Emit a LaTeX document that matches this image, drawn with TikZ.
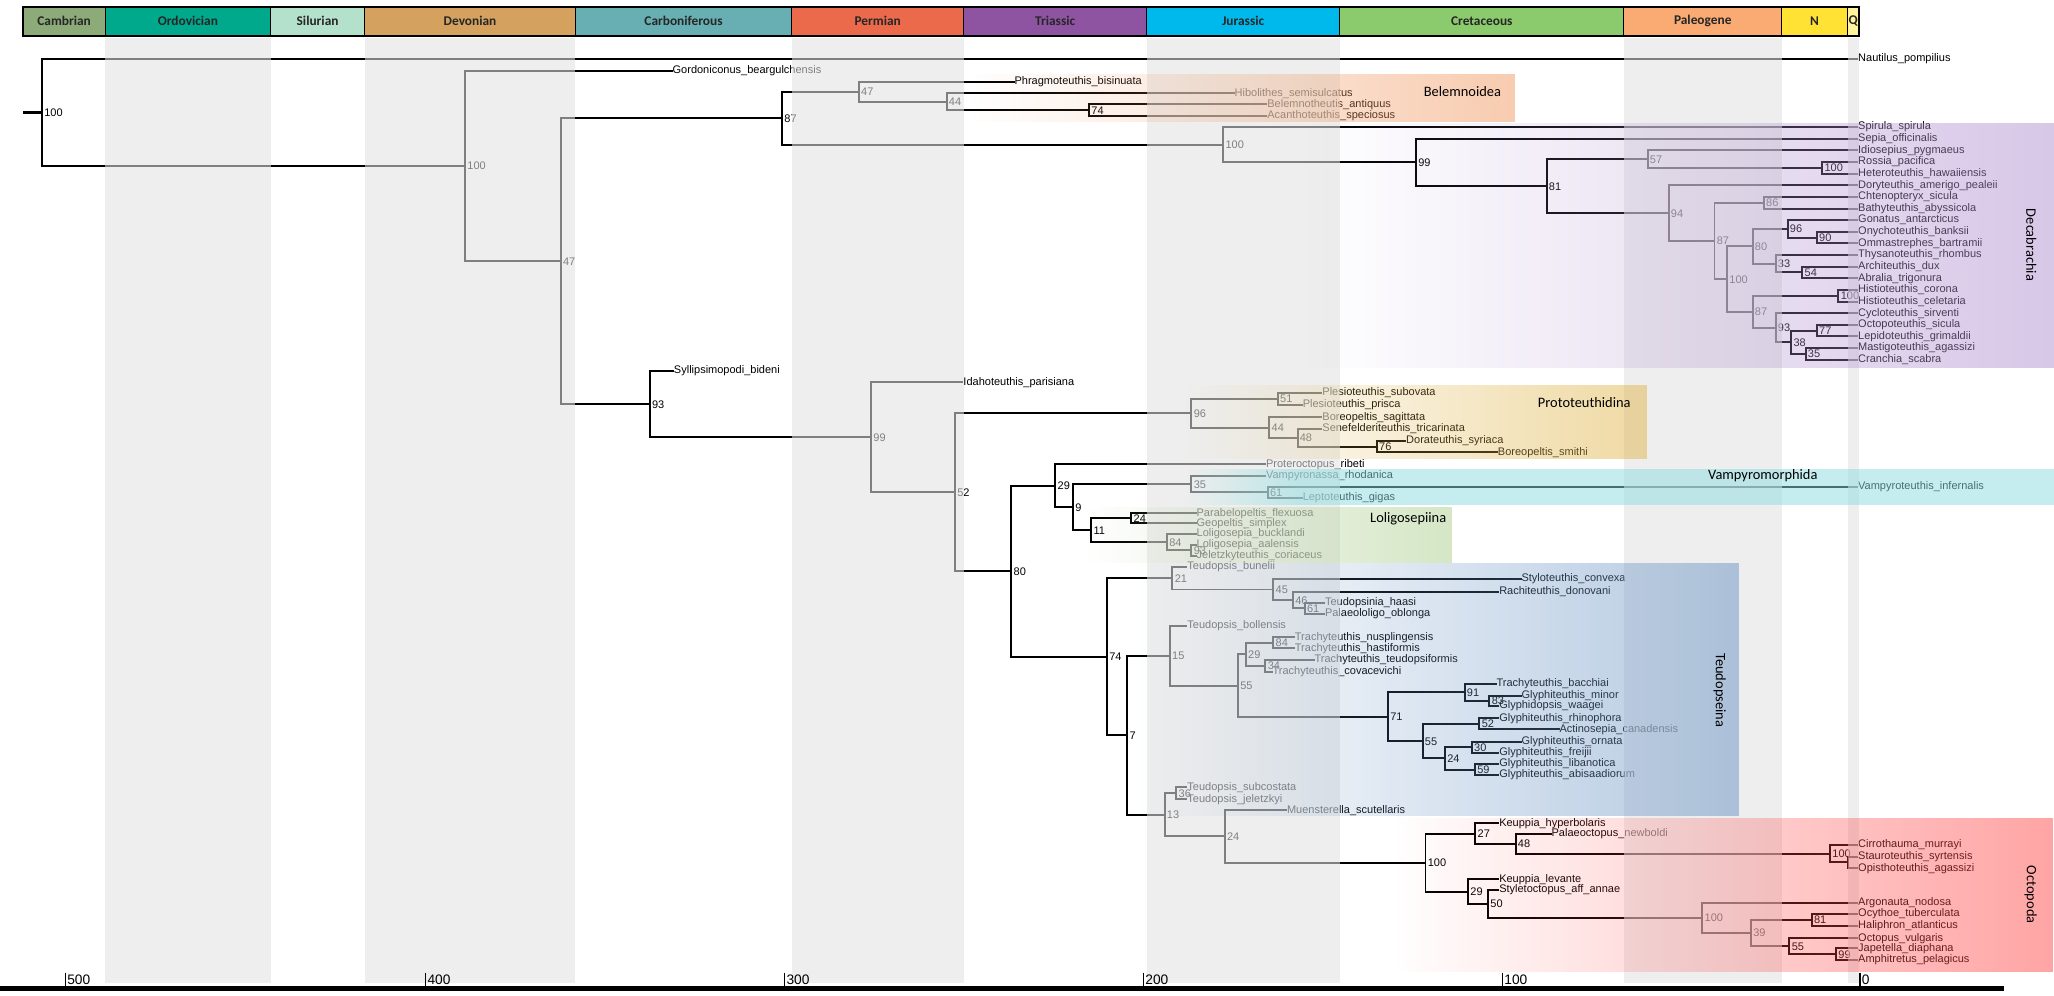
\documentclass[tikz,border=0pt]{standalone}
\usepackage{fontspec}
\setmainfont{Liberation Sans}
\newfontfamily\clfont{Carlito}
\usetikzlibrary{fadings}
\tikzfading[name=fadeinright, left color=transparent!100, right color=transparent!0]
\definecolor{cCam}{HTML}{8DAA79}
\definecolor{cOrd}{HTML}{00A88C}
\definecolor{cSil}{HTML}{B3E1CB}
\definecolor{cDev}{HTML}{D4A15F}
\definecolor{cCar}{HTML}{67AFB2}
\definecolor{cPer}{HTML}{EB6A4C}
\definecolor{cTri}{HTML}{8E53A1}
\definecolor{cJur}{HTML}{00B9EC}
\definecolor{cCre}{HTML}{8BCB6D}
\definecolor{cPal}{HTML}{F9AB73}
\definecolor{cNeo}{HTML}{FFE234}
\definecolor{cQua}{HTML}{FFF49C}
\definecolor{bandc}{gray}{0.888}
\definecolor{kBel}{rgb}{0.945,0.60,0.38}
\definecolor{kDec}{rgb}{0.694,0.569,0.82}
\definecolor{kPro}{rgb}{0.882,0.71,0.286}
\definecolor{kVam}{rgb}{0.553,0.867,0.882}
\definecolor{kLol}{rgb}{0.67,0.81,0.55}
\definecolor{kTeu}{rgb}{0.41,0.58,0.77}
\definecolor{kOct}{rgb}{1,0.29,0.29}
\newcommand\Tip[4]{\node[tiplab] (#1) at (#2,#3) {#4};}
\newcommand\Inn[4]{\coordinate (#1) at (#2,#3);\node[suplab] (#1L) at (#2,#3) {#4};}
\newcommand\Ed[2]{\draw[br] (#1) |- (#2);}
\tikzset{
  tiplab/.style={anchor=west, inner sep=0pt, outer sep=0pt, xshift=0.5pt, font=\fontsize{8.4}{9}\selectfont, text height=6.1pt, text depth=1.8pt},
  suplab/.style={anchor=west, inner sep=0pt, outer sep=0pt, xshift=1.8pt, font=\fontsize{8.4}{9}\selectfont, text height=6.1pt, text depth=0pt},
  br/.style={line width=1.5pt},
  thickbr/.style={line width=1.8pt},
  per/.style={draw=black, line width=0.8pt, minimum height=22.1pt, inner sep=0pt, outer sep=0pt, text=black!85, font=\fontsize{10.2}{11}\selectfont\clfont\bfseries},
  band/.style={fill=bandc, fill opacity=0.563},
  clade/.style={fill opacity=0.5, path fading=fadeinright},
  cladelab/.style={inner sep=0pt, font=\fontsize{11}{12}\selectfont\clfont},
  axlab/.style={anchor=west, inner sep=0pt, font=\fontsize{10.5}{11}\selectfont}
}
\begin{document}
\begin{tikzpicture}[x=1pt,y=-1pt]
\useasboundingbox (0,0) rectangle (1568,760);
\fill[white] (0,0) rectangle (1568,760);

% ---------------- tree: upper part ----------------
\coordinate (r0) at (17.5,85.8);
\Inn{root}{32}{85.8}{100}
\Tip{tNau}{1418}{45}{Nautilus\_pompilius}
\Inn{n2}{355}{126.65}{100}
\Tip{tGor}{513}{54}{Gordoniconus\_beargulchensis}
\Inn{n3}{428}{199.35}{47}
\Inn{n4}{597}{90.2}{87}
\Inn{nB}{655.6}{69.95}{47}
\Inn{nB2}{722.6}{77.6}{44}
\Inn{nB3}{831.4}{84.05}{74}
\Tip{tPhr}{774}{62.3}{Phragmoteuthis\_bisinuata}
\Tip{tHib}{942}{71.2}{Hibolithes\_semisulcatus}
\Tip{tBel}{967}{79.6}{Belemnotheutis\_antiquus}
\Tip{tAca}{967}{88.5}{Acanthoteuthis\_speciosus}
\Inn{nD}{933.8}{110.5}{100}
\Inn{n99}{1080.9}{124.0}{99}
\Inn{n81}{1180.6}{142.0}{81}
\Inn{n57}{1257.7}{121.4}{57}
\Inn{n100R}{1391}{128.05}{100}
\Inn{n94}{1273.8}{162.65}{94}
\Inn{n87a}{1308.8}{183.9}{87}
\Inn{n86}{1346.5}{154.75}{86}
\Inn{n100b}{1318.4}{213.0}{100}
\Inn{n80d}{1337.9}{188.0}{80}
\Inn{n96d}{1364.6}{174.7}{96}
\Inn{n90}{1386.9}{181.35}{90}
\Inn{n33}{1355.4}{201.35}{33}
\Inn{n54}{1375.9}{208.0}{54}
\Inn{n87b}{1337.9}{238.0}{87}
\Inn{n100H}{1403.4}{225.75}{100}
\Inn{n93d}{1355.4}{250.2}{93}
\Inn{n38}{1367.4}{261.3}{38}
\Inn{n77}{1386.9}{252.4}{77}
\Inn{n35d}{1378.3}{270.15}{35}
\Tip{tSpi}{1418}{97.0}{Spirula\_spirula}
\Tip{tSep}{1418}{105.9}{Sepia\_officinalis}
\Tip{tIdi}{1418}{114.8}{Idiosepius\_pygmaeus}
\Tip{tRos}{1418}{123.6}{Rossia\_pacifica}
\Tip{tHet}{1418}{132.5}{Heteroteuthis\_hawaiiensis}
\Tip{tDor}{1418}{141.4}{Doryteuthis\_amerigo\_pealeii}
\Tip{tCht}{1418}{150.3}{Chtenopteryx\_sicula}
\Tip{tBat}{1418}{159.2}{Bathyteuthis\_abyssicola}
\Tip{tGon}{1418}{168.0}{Gonatus\_antarcticus}
\Tip{tOny}{1418}{176.9}{Onychoteuthis\_banksii}
\Tip{tOmm}{1418}{185.8}{Ommastrephes\_bartramii}
\Tip{tThy}{1418}{194.7}{Thysanoteuthis\_rhombus}
\Tip{tArc}{1418}{203.6}{Architeuthis\_dux}
\Tip{tAbr}{1418}{212.4}{Abralia\_trigonura}
\Tip{tHco}{1418}{221.3}{Histioteuthis\_corona}
\Tip{tHce}{1418}{230.2}{Histioteuthis\_celetaria}
\Tip{tCyc}{1418}{239.1}{Cycloteuthis\_sirventi}
\Tip{tOct}{1418}{248.0}{Octopoteuthis\_sicula}
\Tip{tLep}{1418}{256.8}{Lepidoteuthis\_grimaldii}
\Tip{tMas}{1418}{265.7}{Mastigoteuthis\_agassizi}
\Tip{tCra}{1418}{274.6}{Cranchia\_scabra}

\draw[thickbr] (r0) -- (root);
\draw[thickbr] (root) |- (tNau.west);
\draw[thickbr] (root) |- (n2);
\Ed{n2}{tGor.west} \Ed{n2}{n3}
\Ed{n3}{n4}
\Ed{n4}{nB} \Ed{n4}{nD}
\Ed{nB}{tPhr.west} \Ed{nB}{nB2}
\Ed{nB2}{tHib.west} \Ed{nB2}{nB3}
\Ed{nB3}{tBel.west} \Ed{nB3}{tAca.west}
\Ed{nD}{tSpi.west} \Ed{nD}{n99}
\Ed{n99}{tSep.west} \Ed{n99}{n81}
\Ed{n81}{n57} \Ed{n81}{n94}
\Ed{n57}{tIdi.west} \Ed{n57}{n100R}
\Ed{n100R}{tRos.west} \Ed{n100R}{tHet.west}
\Ed{n94}{tDor.west} \Ed{n94}{n87a}
\Ed{n87a}{n86} \Ed{n87a}{n100b}
\Ed{n86}{tCht.west} \Ed{n86}{tBat.west}
\Ed{n100b}{n80d} \Ed{n100b}{n87b}
\Ed{n80d}{n96d} \Ed{n80d}{n33}
\Ed{n96d}{tGon.west} \Ed{n96d}{n90}
\Ed{n90}{tOny.west} \Ed{n90}{tOmm.west}
\Ed{n33}{tThy.west} \Ed{n33}{n54}
\Ed{n54}{tArc.west} \Ed{n54}{tAbr.west}
\Ed{n87b}{n100H} \Ed{n87b}{n93d}
\Ed{n100H}{tHco.west} \Ed{n100H}{tHce.west}
\Ed{n93d}{tCyc.west} \Ed{n93d}{n38}
\Ed{n38}{n77} \Ed{n38}{n35d}
\Ed{n77}{tOct.west} \Ed{n77}{tLep.west}
\Ed{n35d}{tMas.west} \Ed{n35d}{tCra.west}

% ---------------- tree: lower part ----------------
\Inn{n5}{496}{308.5}{93}
\Tip{tSyl}{514}{283.2}{Syllipsimopodi\_bideni}
\Inn{n99b}{665}{333.8}{99}
\Tip{tIda}{735}{291.9}{Idahoteuthis\_parisiana}
\Inn{n52}{729}{375.75}{52}
\Inn{n96}{909.5}{315.45}{96}
\Inn{n51}{975.5}{304.5}{51}
\Inn{n44}{969}{326.4}{44}
\Inn{n48}{990.5}{334.3}{48}
\Inn{n76}{1051}{340.95}{76}
\Tip{tPsu}{1009}{300}{Plesioteuthis\_subovata}
\Tip{tPpr}{994}{309}{Plesioteuthis\_prisca}
\Tip{tBsa}{1009}{318.5}{Boreopeltis\_sagittata}
\Tip{tSen}{1009}{327.6}{Senefelderiteuthis\_tricarinata}
\Tip{tDsy}{1073}{336.5}{Dorateuthis\_syriaca}
\Tip{tBsm}{1143}{345.4}{Boreopeltis\_smithi}
\Inn{n80}{772}{436.05}{80}
\Inn{n29}{805.6}{370.8}{29}
\Inn{n9}{819.2}{387.1}{9}
\Inn{n35}{909.5}{369.5}{35}
\Inn{n61}{967.7}{375.75}{61}
\Inn{n11}{833}{404.75}{11}
\Inn{n24L}{863.6}{395.7}{24}
\Inn{n84L}{890.8}{413.8}{84}
\Inn{n93s}{909.5}{420.1}{93}
\Tip{tPro}{966}{354.5}{Proteroctopus\_ribeti}
\Tip{tVrh}{966}{363.3}{Vampyronassa\_rhodanica}
\Tip{tVin}{1418}{371.5}{Vampyroteuthis\_infernalis}
\Tip{tLgi}{994}{380}{Leptoteuthis\_gigas}
\Tip{tPar}{913}{391.9}{Parabelopeltis\_flexuosa}
\Tip{tGeo}{913}{399.5}{Geopeltis\_simplex}
\Tip{tLbu}{913}{407.5}{Loligosepia\_bucklandi}
\Tip{tLaa}{913}{416}{Loligosepia\_aalensis}
\Tip{tJel}{913}{424.2}{Jeletzkyteuthis\_coriaceus}
\Inn{n74}{845}{501.3}{74}
\Inn{n21}{895}{441.3}{21}
\Inn{n45}{972}{450.0}{45}
\Inn{n46}{987}{458.05}{46}
\Inn{n61T}{996}{464.4}{61}
\Tip{tTbu}{906}{432.6}{Teudopsis\_bunelii}
\Tip{tSty}{1161}{442}{Styloteuthis\_convexa}
\Tip{tRac}{1144}{451.7}{Rachiteuthis\_donovani}
\Tip{tTha}{1011}{460.1}{Teudopsinia\_haasi}
\Tip{tPob}{1011}{468.7}{Palaeololigo\_oblonga}
\Inn{n7}{860.5}{561.3}{7}
\Inn{n15}{893}{500.5}{15}
\Inn{n55T}{945}{523.35}{55}
\Inn{n29T}{951}{499.5}{29}
\Inn{n84T}{972}{490.7}{84}
\Inn{n34}{966}{508.35}{34}
\Inn{n71}{1059.5}{547.2}{71}
\Inn{n91}{1118}{528.55}{91}
\Inn{n83}{1137}{534.9}{83}
\Inn{n55b}{1086}{565.8}{55}
\Inn{n52T}{1129.4}{552.6}{52}
\Inn{n24T}{1103}{578.95}{24}
\Inn{n30}{1123.6}{570.4}{30}
\Inn{n59}{1126}{587.5}{59}
\Tip{tTbo}{906}{477.6}{Teudopsis\_bollensis}
\Tip{tTnu}{988}{486.5}{Trachyteuthis\_nusplingensis}
\Tip{tThs}{988}{494.9}{Trachyteuthis\_hastiformis}
\Tip{tTte}{1003}{503.9}{Trachyteuthis\_teudopsiformis}
\Tip{tTco}{971}{512.8}{Trachyteuthis\_covacevichi}
\Tip{tTba}{1142}{522.2}{Trachyteuthis\_bacchiai}
\Tip{tGmi}{1161}{531.1}{Glyphiteuthis\_minor}
\Tip{tGwa}{1144}{538.7}{Glyphidopsis\_waagei}
\Tip{tGrh}{1144}{548.4}{Glyphiteuthis\_rhinophora}
\Tip{tAct}{1190}{556.8}{Actinosepia\_canadensis}
\Tip{tGorn}{1161}{566.2}{Glyphiteuthis\_ornata}
\Tip{tGfr}{1144}{574.6}{Glyphiteuthis\_freijii}
\Tip{tGli}{1144}{583.3}{Glyphiteuthis\_libanotica}
\Tip{tGab}{1144}{591.7}{Glyphiteuthis\_abisaadiorum}
\Inn{n13}{889}{622.05}{13}
\Inn{n36}{898}{605.6}{36}
\Inn{n24O}{934.9}{638.5}{24}
\Inn{n100O}{1088.2}{658.45}{100}
\Inn{n27}{1126.2}{636.3}{27}
\Inn{n48O}{1157}{644.15}{48}
\Inn{n100C}{1397}{651.7}{100}
\coordinate (n9x) at (1411,658.35);
\Inn{n29O}{1120.7}{680.6}{29}
\Inn{n50}{1136}{690.0}{50}
\Inn{n100I}{1299.5}{700.6}{100}
\Inn{n39}{1336.6}{712.2}{39}
\Inn{n81O}{1383}{702.15}{81}
\Inn{n55O}{1366}{722.3}{55}
\Inn{n99O}{1401.6}{728.35}{99}
\Tip{tTsu}{906}{601}{Teudopsis\_subcostata}
\Tip{tTje}{906}{610.2}{Teudopsis\_jeletzkyi}
\Tip{tMue}{982}{618.5}{Muensterella\_scutellaris}
\Tip{tKhy}{1144}{628.5}{Keuppia\_hyperbolaris}
\Tip{tPal}{1184}{636.6}{Palaeoctopus\_newboldi}
\Tip{tCir}{1418}{645}{Cirrothauma\_murrayi}
\Tip{tSta}{1418}{653.9}{Stauroteuthis\_syrtensis}
\Tip{tOpi}{1418}{662.8}{Opisthoteuthis\_agassizi}
\Tip{tKle}{1144}{671.2}{Keuppia\_levante}
\Tip{tSst}{1144}{679.4}{Styletoctopus\_aff\_annae}
\Tip{tArg}{1418}{689}{Argonauta\_nodosa}
\Tip{tOcy}{1418}{697.7}{Ocythoe\_tuberculata}
\Tip{tHal}{1418}{706.6}{Haliphron\_atlanticus}
\Tip{tOvu}{1418}{716.3}{Octopus\_vulgaris}
\Tip{tJap}{1418}{723.9}{Japetella\_diaphana}
\Tip{tAmp}{1418}{732.8}{Amphitretus\_pelagicus}

\Ed{n3}{n5}
\Ed{n5}{tSyl.west} \Ed{n5}{n99b}
\Ed{n99b}{tIda.west} \Ed{n99b}{n52}
\Ed{n52}{n96} \Ed{n52}{n80}
\Ed{n96}{n51} \Ed{n96}{n44}
\Ed{n51}{tPsu.west} \Ed{n51}{tPpr.west}
\Ed{n44}{tBsa.west} \Ed{n44}{n48}
\Ed{n48}{tSen.west} \Ed{n48}{n76}
\Ed{n76}{tDsy.west} \Ed{n76}{tBsm.west}
\Ed{n80}{n29} \Ed{n80}{n74}
\Ed{n29}{tPro.west} \Ed{n29}{n9}
\Ed{n9}{n35} \Ed{n9}{n11}
\Ed{n35}{tVrh.west} \Ed{n35}{n61}
\Ed{n61}{tVin.west} \Ed{n61}{tLgi.west}
\Ed{n11}{n24L} \Ed{n11}{n84L}
\Ed{n24L}{tPar.west} \Ed{n24L}{tGeo.west}
\Ed{n84L}{tLbu.west} \Ed{n84L}{n93s}
\Ed{n93s}{tLaa.west} \Ed{n93s}{tJel.west}
\Ed{n74}{n21} \Ed{n74}{n7}
\Ed{n21}{tTbu.west} \Ed{n21}{n45}
\Ed{n45}{tSty.west} \Ed{n45}{n46}
\Ed{n46}{tRac.west} \Ed{n46}{n61T}
\Ed{n61T}{tTha.west} \Ed{n61T}{tPob.west}
\Ed{n7}{n15} \Ed{n7}{n13}
\Ed{n15}{tTbo.west} \Ed{n15}{n55T}
\Ed{n55T}{n29T} \Ed{n55T}{n71}
\Ed{n29T}{n84T} \Ed{n29T}{n34}
\Ed{n84T}{tTnu.west} \Ed{n84T}{tThs.west}
\Ed{n34}{tTte.west} \Ed{n34}{tTco.west}
\Ed{n71}{n91} \Ed{n71}{n55b}
\Ed{n91}{tTba.west} \Ed{n91}{n83}
\Ed{n83}{tGmi.west} \Ed{n83}{tGwa.west}
\Ed{n55b}{n52T} \Ed{n55b}{n24T}
\Ed{n52T}{tGrh.west} \Ed{n52T}{tAct.west}
\Ed{n24T}{n30} \Ed{n24T}{n59}
\Ed{n30}{tGorn.west} \Ed{n30}{tGfr.west}
\Ed{n59}{tGli.west} \Ed{n59}{tGab.west}
\Ed{n13}{n36} \Ed{n13}{n24O}
\Ed{n36}{tTsu.west} \Ed{n36}{tTje.west}
\Ed{n24O}{tMue.west} \Ed{n24O}{n100O}
\Ed{n100O}{n27} \Ed{n100O}{n29O}
\Ed{n27}{tKhy.west} \Ed{n27}{n48O}
\Ed{n48O}{tPal.west} \Ed{n48O}{n100C}
\Ed{n100C}{tCir.west} \Ed{n100C}{n9x}
\Ed{n9x}{tSta.west} \Ed{n9x}{tOpi.west}
\Ed{n29O}{tKle.west} \Ed{n29O}{n50}
\Ed{n50}{tSst.west} \Ed{n50}{n100I}
\Ed{n100I}{tArg.west} \Ed{n100I}{n39}
\Ed{n39}{n81O} \Ed{n39}{n55O}
\Ed{n81O}{tOcy.west} \Ed{n81O}{tHal.west}
\Ed{n55O}{tOvu.west} \Ed{n55O}{n99O}
\Ed{n99O}{tJap.west} \Ed{n99O}{tAmp.west}

% ---------------- period bands (overlay) ----------------
\fill[band] (80.3,28.8) rectangle (206.6,750.6);
\fill[band] (278.3,28.8) rectangle (439.3,750.6);
\fill[band] (604.3,28.8) rectangle (735.7,750.6);
\fill[band] (875.3,28.8) rectangle (1022.7,750.6);
\fill[band] (1239.7,28.8) rectangle (1360,750.6);
\fill[band] (1410.4,28.8) rectangle (1419,750.6);

% ---------------- clade boxes (overlay) ----------------
\fill[clade, kBel] (740,56.5) rectangle (1157,93);
\fill[clade, kDec] (1000,93.6) rectangle (1568,281.2);
\fill[clade, kPro] (905,294) rectangle (1257,350.6);
\fill[clade, kVam] (905,358) rectangle (990,385.5);
\fill[kVam, fill opacity=0.5] (990,358) rectangle (1568,385.5);
\fill[clade, kLol] (830,386.8) rectangle (1108,430);
\fill[clade, kTeu] (870,430) rectangle (1328,623);
\fill[clade, kOct] (1065,624.7) rectangle (1568,741.7);

\node[cladelab] (lBel) at (1116.4,70) {Belemnoidea};
\node[cladelab, rotate=-90] (lDec) at (1550.7,187) {Decabrachia};
\node[cladelab] (lPro) at (1209.4,307) {Prototeuthidina};
\node[cladelab] (lVam) at (1345.7,363.3) {Vampyromorphida};
\node[cladelab] (lLol) at (1075,396) {Loligosepiina};
\node[cladelab, rotate=-90] (lTeu) at (1312.7,527) {Teudopseina};
\node[cladelab, rotate=-90] (lOct) at (1550.2,683) {Octopoda};

% ---------------- period bar ----------------
\node[per, fill=cCam, anchor=north west, minimum width=62.7pt] (pCam) at (17.6,5.1) {Cambrian};
\node[per, fill=cOrd, anchor=north west, minimum width=126.3pt] (pOrd) at (80.3,5.1) {Ordovician};
\node[per, fill=cSil, anchor=north west, minimum width=71.7pt] (pSil) at (206.6,5.1) {Silurian};
\node[per, fill=cDev, anchor=north west, minimum width=161pt] (pDev) at (278.3,5.1) {Devonian};
\node[per, fill=cCar, anchor=north west, minimum width=165pt] (pCar) at (439.3,5.1) {Carboniferous};
\node[per, fill=cPer, anchor=north west, minimum width=131.4pt] (pPer) at (604.3,5.1) {Permian};
\node[per, fill=cTri, anchor=north west, minimum width=139.6pt] (pTri) at (735.7,5.1) {Triassic};
\node[per, fill=cJur, anchor=north west, minimum width=147.4pt] (pJur) at (875.3,5.1) {Jurassic};
\node[per, fill=cCre, anchor=north west, minimum width=217pt] (pCre) at (1022.7,5.1) {Cretaceous};
\node[per, fill=cPal, anchor=north west, minimum width=120.3pt] (pPal) at (1239.7,5.1) {Paleogene};
\node[per, fill=cNeo, anchor=north west, minimum width=50.4pt] (pNeo) at (1360,5.1) {N};
\node[per, fill=cQua, anchor=north west, minimum width=8.6pt] (pQua) at (1410.4,5.1) {Q};
\draw[line width=1.6pt] (17.6,5.1) rectangle (1419,27.2);

% ---------------- time axis ----------------
\draw[line width=3.5pt] (0,754.8) -- (1530,754.8);
\foreach \xx/\lab in {50/500, 325/400, 599/300, 873/200, 1147/100, 1420/0}{
  \draw[line width=1pt] (\xx,742.5) -- (\xx,753);
  \node[axlab] at (\xx+1.2,747.8) {\lab};
}
\end{tikzpicture}
\end{document}
